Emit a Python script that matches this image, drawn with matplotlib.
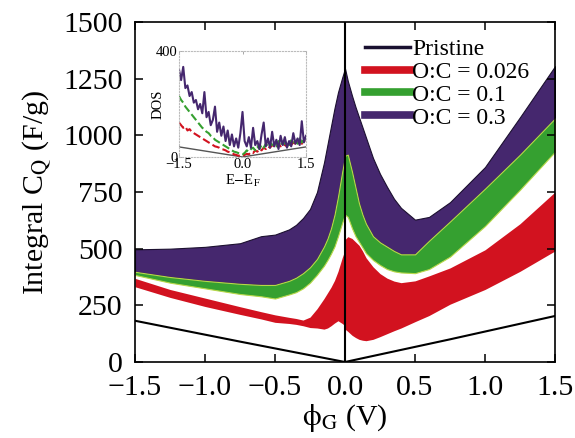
import matplotlib
matplotlib.use('agg')
import matplotlib.pyplot as plt
from matplotlib.lines import Line2D
import numpy as np

plt.rcParams.update({
    'font.family': ['Liberation Serif', 'DejaVu Serif'],
    'mathtext.fontset': 'stix',
    'xtick.direction': 'in',
    'ytick.direction': 'in',
    'xtick.top': True,
    'ytick.right': True,
})

# gate potential grid (0 appears twice: left and right limits of the cusp)
phi = [-1.5, -1.25, -1.0, -0.75, -0.6, -0.5, -0.4, -0.35, -0.3, -0.25, -0.2, -0.15, -0.125, -0.1,
       -0.075, -0.05, -0.02, 0.0,
       0.0, 0.02, 0.05, 0.075, 0.1, 0.125, 0.15, 0.2, 0.25, 0.3, 0.35, 0.4, 0.5, 0.6, 0.75, 1.0,
       1.25, 1.5]

# O:C = 0.3 band
oc03_hi = [497, 500, 508, 524, 555, 562, 585, 605, 635, 675, 750, 880, 960, 1040, 1120, 1190, 1255, 1295,
           1295, 1240, 1175, 1125, 1080, 1035, 990, 900, 830, 773, 720, 680, 628, 640, 705, 860, 1080, 1305]
oc03_lo = [398, 375, 358, 345, 340, 340, 358, 372, 392, 418, 455, 510, 545, 590, 650, 730, 840, 905,
           910, 915, 840, 770, 700, 650, 610, 555, 528, 509, 490, 475, 475, 535, 620, 765, 915, 1075]
# O:C = 0.1 band
oc01_hi = oc03_lo
oc01_lo = [384, 350, 325, 300, 290, 280, 298, 308, 325, 350, 385, 425, 450, 478, 510, 555, 615, 650,
           650, 640, 590, 555, 530, 505, 480, 450, 428, 410, 400, 395, 392, 410, 465, 600, 760, 928]
# O:C = 0.026 band
oc0026_hi = [369, 320, 282, 244, 222, 208, 197, 192, 185, 198, 235, 280, 305, 330, 360, 400, 460, 495,
             540, 553, 545, 530, 515, 490, 460, 420, 390, 370, 357, 350, 358, 380, 415, 495, 610, 750]
oc0026_lo = [332, 285, 245, 210, 190, 175, 170, 166, 160, 152, 150, 145, 150, 160, 172, 182, 170, 160,
             145, 135, 118, 108, 100, 96, 94, 100, 112, 125, 138, 150, 178, 205, 255, 320, 400, 490]

# pristine graphene
phi_pr = [-1.5, -0.75, 0.0, 0.75, 1.5]
cq_pr = [182, 90, 0, 100, 203]

# inset: density of states vs E - E_F
e_dos = np.linspace(-1.5, 1.5, 61)
dos_03 = [330, 290, 340, 260, 270, 230, 245, 205, 215, 180, 200, 165, 245, 150, 170, 120,
          140, 190, 95, 130, 80, 115, 60, 100, 45, 85, 40, 70, 35, 90, 170, 60, 40, 75, 35,
          110, 45, 60, 30, 85, 130, 40, 70, 35, 95, 40, 65, 30, 80, 45, 75, 35, 60, 40, 90,
          50, 70, 45, 135, 55, 80]
dos_01 = [230, 215, 205, 190, 180, 170, 160, 150, 140, 130, 120, 110, 105, 95, 90, 80, 75,
          65, 60, 55, 50, 45, 40, 35, 30, 25, 20, 18, 15, 12, 10, 15, 25, 20, 30, 35, 25, 40,
          30, 45, 35, 50, 40, 55, 45, 50, 40, 60, 45, 55, 50, 60, 45, 65, 55, 60, 50, 70, 55,
          65, 60]
dos_0026 = [130, 120, 110, 115, 100, 105, 95, 90, 85, 80, 75, 70, 65, 60, 55, 50, 45, 40, 38,
            35, 30, 28, 25, 20, 18, 15, 10, 8, 5, 5, 5, 8, 12, 10, 18, 15, 25, 20, 30, 25, 35,
            30, 40, 35, 45, 40, 35, 50, 40, 55, 45, 40, 50, 45, 55, 50, 45, 60, 50, 55, 60]
e_pr = [-1.5, -0.75, 0.0, 0.75, 1.5]
dos_pr = [38, 19, 0, 19, 38]

PURPLE = '#45276e'
GREEN = '#35a030'
RED = '#d2121f'

fig = plt.figure(figsize=(5.75, 4.38), dpi=100)
ax = fig.add_axes([0.2348, 0.1735, 0.7304, 0.7763])

ax.fill_between(phi, oc03_lo, oc03_hi, color=PURPLE, ec='#1c1030', lw=0.8)
ax.fill_between(phi, oc01_lo, oc01_hi, color=GREEN, ec='#b8d84a', lw=0.8)
ax.fill_between(phi, oc0026_lo, oc0026_hi, color=RED, lw=0)
ax.plot(phi_pr, cq_pr, color='black', lw=1.5)
ax.axvline(0, color='black', lw=1.5)

ax.set_xlim(-1.5, 1.5)
ax.set_ylim(0, 1500)
ax.set_xticks([-1.5, -1.0, -0.5, 0.0, 0.5, 1.0, 1.5])
ax.set_xticklabels(['\u22121.5', '\u22121.0', '\u22120.5', '0.0', '0.5', '1.0', '1.5'])
ax.set_yticks([0, 250, 500, 750, 1000, 1250, 1500])
ax.tick_params(labelsize=21.5, length=6, width=1.1)
ax.tick_params(axis='y', pad=9)
ax.tick_params(axis='x', pad=9)
for s in ax.spines.values():
    s.set_linewidth(1.2)
ax.set_xlabel(r'$\mathrm{\phi_G}$ (V)', fontsize=21.5, labelpad=1)
ax.set_ylabel(r'Integral C$_\mathrm{Q}$ (F/g)', fontsize=21.5, labelpad=6)

handles = [Line2D([], [], color='#1a1030', lw=2.5),
           Line2D([], [], color=RED, lw=5.5),
           Line2D([], [], color=GREEN, lw=5.5),
           Line2D([], [], color=PURPLE, lw=5.5)]
labels = ['Pristine', 'O:C = 0.026', 'O:C = 0.1', 'O:C = 0.3']
ax.legend(handles, labels, loc='upper left', bbox_to_anchor=(0.548, 0.952), frameon=False,
          fontsize=17, handlelength=1.9, handletextpad=0.1, labelspacing=0.06,
          borderpad=0, borderaxespad=0)

# inset
ins = fig.add_axes([0.3113, 0.6416, 0.2209, 0.2420])
ins.plot(e_pr, dos_pr, color='#555555', lw=1)
ins.plot(e_dos, dos_0026, color=RED, lw=1.5, ls='--')
ins.plot(e_dos, dos_01, color=GREEN, lw=1.5, ls='--')
ins.plot(e_dos, dos_03, color=PURPLE, lw=1.5)
ins.set_xlim(-1.5, 1.5)
ins.set_ylim(0, 400)
ins.set_xticks([-1.5, 0.0, 1.5])
ins.set_xticklabels(['\u22121.5', '0.0', '1.5'])
ins.set_yticks([0, 400])
ins.tick_params(labelsize=10.5, length=2, width=0.6, color='#999999', pad=1)
for s in ins.spines.values():
    s.set_color('#bbbbbb')
    s.set_linewidth(0.8)
    s.set_linestyle(':')
ins.set_xlabel(r'E$-$E$_\mathrm{F}$', fontsize=10.5, labelpad=1)
ins.set_ylabel('DOS', fontsize=10.5, labelpad=-6)

fig.savefig('out.png', dpi=100)
